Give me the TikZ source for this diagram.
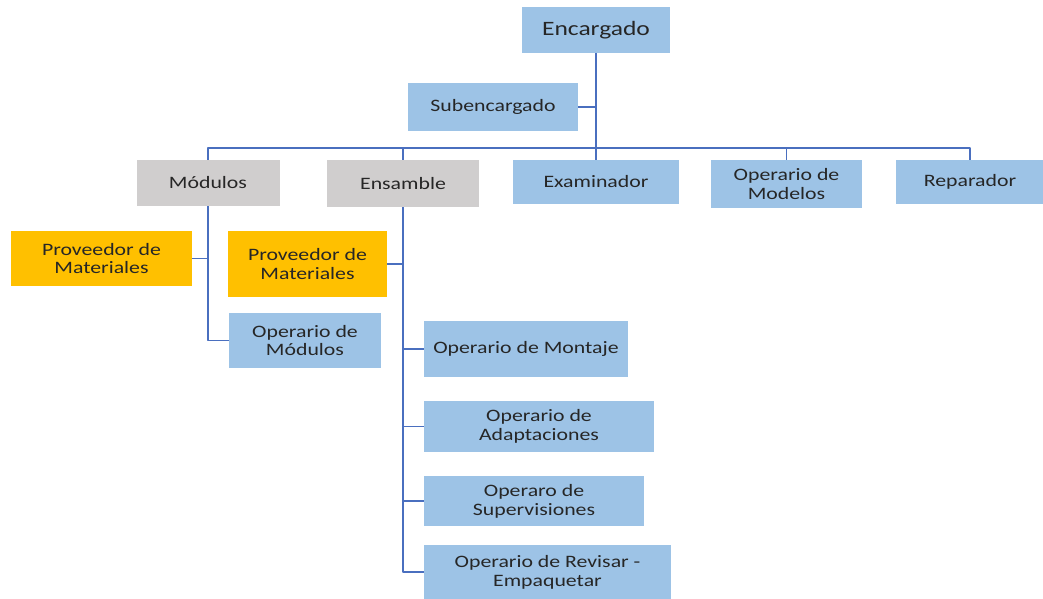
\documentclass[tikz,border=0pt]{standalone}
\usepackage{fontspec}
\setmainfont{Carlito}[FakeStretch=1.25]
\usetikzlibrary{positioning}
\definecolor{boxblue}{HTML}{9DC3E6}
\definecolor{boxgray}{HTML}{D0CECE}
\definecolor{boxgold}{HTML}{FFC000}
\definecolor{linkblue}{HTML}{4A6FBF}
\definecolor{inkdark}{HTML}{262626}
\tikzset{
  unit/.style={draw=none,fill=boxblue,inner sep=0pt,align=center,text=inkdark,
    font=\fontsize{17.5}{19}\selectfont},
  dept/.style={unit,fill=boxgray},
  supply/.style={unit,fill=boxgold},
  link/.style={draw=linkblue,line width=1.8pt},
}
\begin{document}
\begin{tikzpicture}[line join=bevel,]
\useasboundingbox (0bp,0bp) rectangle (1043bp,599bp);
%%
\node (encargado) at (596.0bp,569.0bp) [unit,minimum width=148bp,minimum height=46bp,font=\fontsize{20.5}{22}\selectfont] {Encargado};
  \node (subencargado) at (493.0bp,492.0bp) [unit,minimum width=170bp,minimum height=48bp] {Subencargado};
  \node (modulos) at (208.0bp,416.0bp) [dept,minimum width=143bp,minimum height=46bp] {Módulos};
  \node (ensamble) at (403.0bp,415.5bp) [dept,minimum width=152bp,minimum height=47bp] {Ensamble};
  \node (examinador) at (596.0bp,417.0bp) [unit,minimum width=166bp,minimum height=44bp] {Examinador};
  \node (opmodelos) at (786.5bp,415.0bp) [unit,minimum width=151bp,minimum height=48bp] {Operario de\\Modelos};
  \node (reparador) at (970.0bp,417.0bp) [unit,minimum width=148bp,minimum height=44bp] {Reparador};
  \node (prov_a) at (101.5bp,340.5bp) [supply,minimum width=181bp,minimum height=55bp] {Proveedor de\\Materiales};
  \node (prov_b) at (307.5bp,335.0bp) [supply,minimum width=159bp,minimum height=66bp] {Proveedor de\\Materiales};
  \node (opmodulos) at (305.0bp,258.5bp) [unit,minimum width=152bp,minimum height=55bp] {Operario de\\Módulos};
  \node (montaje) at (526.0bp,250.0bp) [unit,minimum width=204bp,minimum height=56bp] {Operario de Montaje};
  \node (adaptaciones) at (539.0bp,172.5bp) [unit,minimum width=230bp,minimum height=51bp] {Operario de\\Adaptaciones};
  \node (supervisiones) at (534.0bp,98.0bp) [unit,minimum width=220bp,minimum height=50bp] {Operaro de\\Supervisiones};
  \node (revisar) at (547.5bp,27.0bp) [unit,minimum width=247bp,minimum height=54bp] {Operario de Revisar -\\Empaquetar};
  \draw [link] (encargado.south) -- (examinador.north);
  \draw [link] (subencargado.east) -- (subencargado.east -| encargado.south);
  \draw [link] (modulos.north) -- ++(0bp,12bp) -| (reparador.north);
  \draw [link] (ensamble.north) -- ++(0bp,12.5bp);
  \draw [link] (opmodelos.north) -- ++(0bp,12bp);
  \draw [link] (modulos.south) |- (opmodulos.west);
  \draw [link] (prov_a.east) -- (prov_a.east -| modulos.south);
  \draw [link] (ensamble.south) |- (revisar.west);
  \draw [link] (prov_b.east) -- (prov_b.east -| ensamble.south);
  \draw [link] (montaje.west) -- (montaje.west -| ensamble.south);
  \draw [link] (adaptaciones.west) -- (adaptaciones.west -| ensamble.south);
  \draw [link] (supervisiones.west) -- (supervisiones.west -| ensamble.south);
%
\end{tikzpicture}
\end{document}
